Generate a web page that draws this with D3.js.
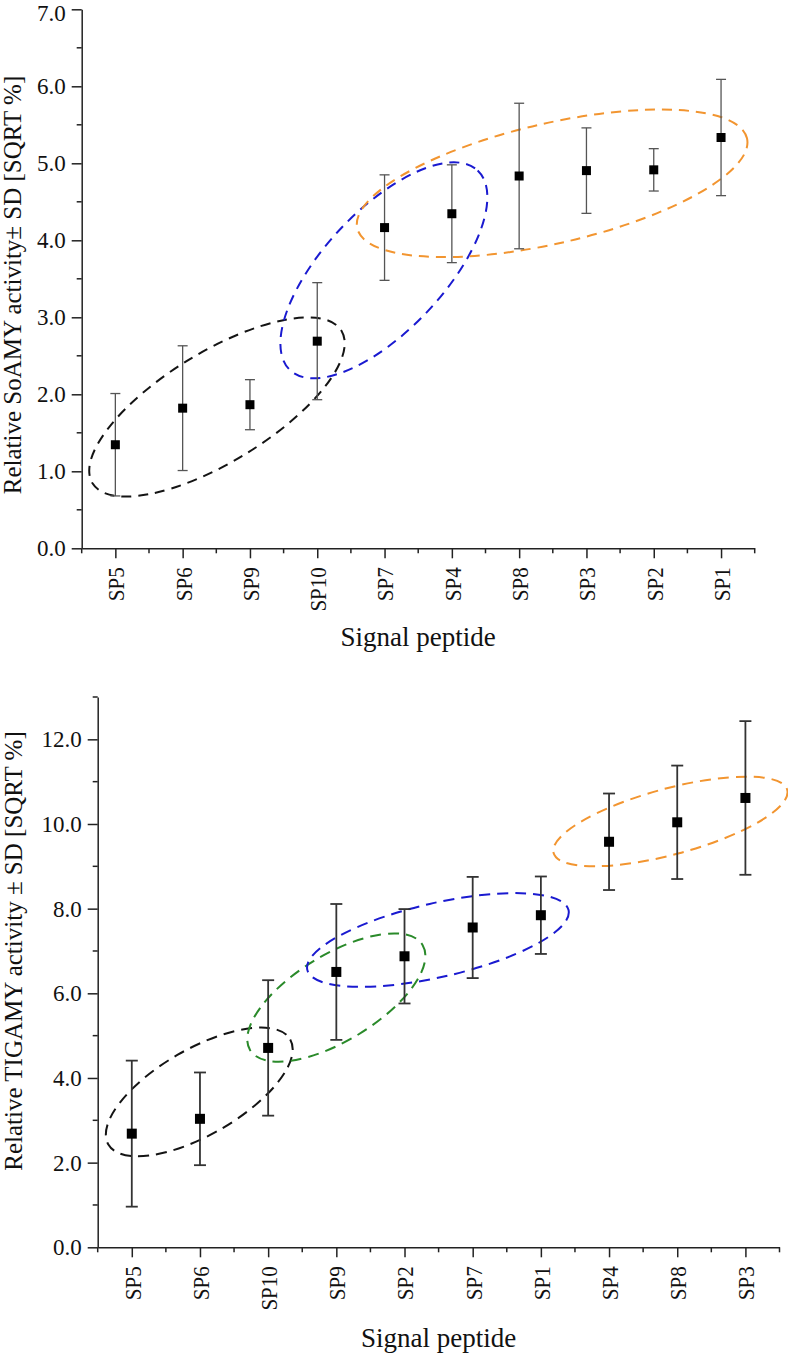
<!DOCTYPE html>
<html><head><meta charset="utf-8">
<script src="https://cdn.jsdelivr.net/npm/d3@7"></script>
<style>
body{margin:0;background:#fff}
svg{display:block;background:#fff}
text{font-family:"Liberation Serif","Times New Roman",serif;fill:#111}
</style>
</head><body>
<svg id="chart" width="788" height="1355"></svg>
<script>
// ---------- DATA ----------
const topCategories = ["SP5","SP6","SP9","SP10","SP7","SP4","SP8","SP3","SP2","SP1"];
const topMeans      = [1.345, 1.82, 1.865, 2.69, 4.165, 4.345, 4.835, 4.905, 4.915, 5.335];
const topSD         = [0.665, 0.81, 0.325, 0.76, 0.685, 0.635, 0.945, 0.555, 0.275, 0.755];
const topYTicks     = [0,1,2,3,4,5,6,7];
const topYMinor     = [0.5,1.5,2.5,3.5,4.5,5.5,6.5];
const topYLabel     = "Relative SoAMY activity\u00B1 SD [SQRT %]";

const bottomCategories = ["SP5","SP6","SP10","SP9","SP2","SP7","SP1","SP4","SP8","SP3"];
const bottomMeans      = [2.685, 3.035, 4.71, 6.505, 6.875, 7.555, 7.845, 9.58, 10.04, 10.615];
const bottomSD         = [1.725, 1.095, 1.60, 1.605, 1.115, 1.195, 0.915, 1.14, 1.34, 1.815];
const bottomYTicks     = [0,2,4,6,8,10,12];
const bottomYMinor     = [1,3,5,7,9,11,13];
const bottomYLabel     = "Relative TIGAMY activity \u00B1 SD [SQRT %]";

const xTitle = "Signal peptide";

// group ellipses: centre as (category index, value)
const topGroups = [
  {color:"black",  ci:1.51, v:1.835},
  {color:"blue",   ci:3.99, v:3.61},
  {color:"orange", ci:6.49, v:4.74}
];
const bottomGroups = [
  {color:"black",  ci:0.99, v:3.67},
  {color:"green",  ci:3.00, v:5.90},
  {color:"blue",   ci:4.49, v:7.26},
  {color:"orange", ci:7.90, v:10.06}
];

// ---------- STYLE / LAYOUT ----------
const palette = {black:"#141414", blue:"#1a1ad0", orange:"#f29530", green:"#2a8a2a"};
const topShapes = [ {rx:146, ry:55, a:-31.5}, {rx:137, ry:60, a:-46.8}, {rx:200, ry:60, a:-13} ];
const bottomShapes = [ {rx:105, ry:43, a:-30}, {rx:101, ry:43, a:-31.4}, {rx:134, ry:37, a:-12.9}, {rx:121, ry:33, a:-15.1} ];

const svg = d3.select("#chart");

function drawPanel(cfg){
  const g = svg.append("g");
  const x = d3.scalePoint().domain(cfg.cats).range([cfg.left, cfg.right]).padding(0.5);
  const step = x.step();
  const y = d3.scaleLinear().domain([0, cfg.yMax]).range([cfg.bottom, cfg.top]);

  // ellipses
  cfg.groups.forEach((gr, i) => {
    const s = cfg.shapes[i];
    const cx = x(cfg.cats[0]) + gr.ci * step;
    const cy = y(gr.v);
    g.append("ellipse")
      .attr("cx", 0).attr("cy", 0).attr("rx", s.rx).attr("ry", s.ry)
      .attr("transform", `translate(${cx},${cy}) rotate(${s.a})`)
      .attr("fill", "none").attr("stroke", palette[gr.color])
      .attr("stroke-width", 2).attr("stroke-dasharray", cfg.dash);
  });

  // axes
  const yAxis = d3.axisLeft(y).tickValues(cfg.yTicks).tickSize(10).tickSizeOuter(0)
    .tickPadding(6).tickFormat(d3.format(".1f"));
  const ya = g.append("g").attr("transform", `translate(${cfg.left},0)`).call(yAxis);
  ya.selectAll("text").attr("font-size", 23)
    .style("font-family", '"Liberation Serif","Times New Roman",serif').attr("fill","#111")
    .attr("dy", d => (y(d) - cfg.top < 8 ? "0.5em" : "0.32em"));
  ya.selectAll("line,path").attr("stroke", "#222").attr("stroke-width", 1.5);
  g.append("g").selectAll("line").data(cfg.yMinor).join("line")
    .attr("x1", cfg.left - 5).attr("x2", cfg.left)
    .attr("y1", d => y(d)).attr("y2", d => y(d))
    .attr("stroke", "#222").attr("stroke-width", 1.5);

  const xAxis = d3.axisBottom(x).tickSize(10).tickSizeOuter(0);
  const xa = g.append("g").attr("transform", `translate(0,${cfg.bottom})`).call(xAxis);
  xa.selectAll("line,path").attr("stroke", "#222").attr("stroke-width", 1.5);
  xa.selectAll("text")
    .attr("font-size", 24)
    .style("font-family", '"Liberation Serif","Times New Roman",serif')
    .attr("fill", "#111")
    .attr("text-anchor", "end")
    .attr("x", 0).attr("y", 0).attr("dy", "0.35em")
    .attr("transform", "translate(0,19) rotate(-90) scale(0.875,1)");
  const bounds = d3.range(cfg.cats.length + 1).map(k => cfg.left + k * step);
  g.append("g").selectAll("line").data(bounds).join("line")
    .attr("x1", d => d).attr("x2", d => d)
    .attr("y1", cfg.bottom).attr("y2", cfg.bottom + 5)
    .attr("stroke", "#222").attr("stroke-width", 1.5);

  // error bars
  const rows = cfg.cats.map((c, i) => ({c, m: cfg.means[i], sd: cfg.sd[i]}));
  const eb = g.append("g").attr("stroke", cfg.ebColor).attr("stroke-width", cfg.ebWidth);
  eb.selectAll(".v").data(rows).join("line")
    .attr("x1", d => x(d.c)).attr("x2", d => x(d.c))
    .attr("y1", d => y(d.m + d.sd)).attr("y2", d => y(d.m - d.sd));
  eb.selectAll(".t").data(rows).join("line")
    .attr("x1", d => x(d.c) - cfg.cap).attr("x2", d => x(d.c) + cfg.cap)
    .attr("y1", d => y(d.m + d.sd)).attr("y2", d => y(d.m + d.sd));
  eb.selectAll(".b").data(rows).join("line")
    .attr("x1", d => x(d.c) - cfg.cap).attr("x2", d => x(d.c) + cfg.cap)
    .attr("y1", d => y(d.m - d.sd)).attr("y2", d => y(d.m - d.sd));

  // markers
  g.append("g").selectAll("rect").data(rows).join("rect")
    .attr("x", d => x(d.c) - cfg.mk / 2).attr("y", d => y(d.m) - cfg.mk / 2)
    .attr("width", cfg.mk).attr("height", cfg.mk).attr("fill", "#000");

  // titles
  g.append("text").text(cfg.yLabel)
    .attr("font-size", 25).attr("text-anchor", "middle")
    .attr("transform", `translate(${cfg.yLabelX},${cfg.yLabelY}) rotate(-90)`);
  g.append("text").text(xTitle)
    .attr("font-size", 27).attr("text-anchor", "middle")
    .attr("x", (cfg.left + cfg.right) / 2).attr("y", cfg.xTitleY);
}

drawPanel({
  cats: topCategories, means: topMeans, sd: topSD, yMax: 7,
  yTicks: topYTicks, yMinor: topYMinor, yLabel: topYLabel,
  groups: topGroups, shapes: topShapes,
  left: 81.7, right: 754.7, top: 9.3, bottom: 548.3,
  yLabelX: 21, yLabelY: 285, xTitleY: 646,
  ebColor: "#555", ebWidth: 1.3, cap: 5, mk: 9, dash: "10,7"
});
drawPanel({
  cats: bottomCategories, means: bottomMeans, sd: bottomSD, yMax: 13,
  yTicks: bottomYTicks, yMinor: bottomYMinor, yLabel: bottomYLabel,
  groups: bottomGroups, shapes: bottomShapes,
  left: 97.7, right: 779.5, top: 697, bottom: 1247.3,
  yLabelX: 22, yLabelY: 951, xTitleY: 1347,
  ebColor: "#333", ebWidth: 1.8, cap: 6, mk: 10, dash: "11,7"
});
</script>
</body></html>
